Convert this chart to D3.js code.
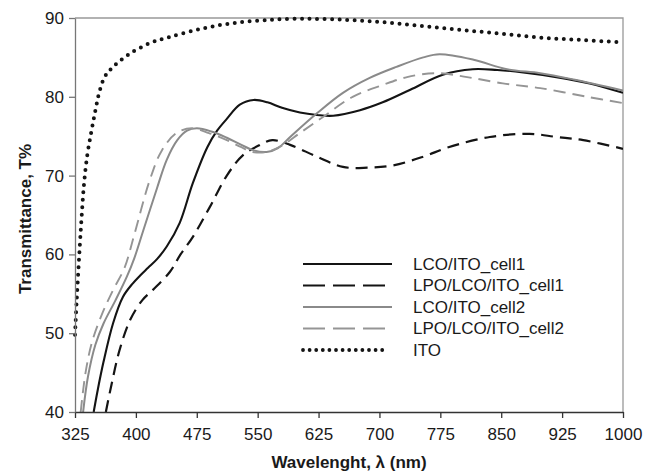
<!DOCTYPE html>
<html>
<head>
<meta charset="utf-8">
<script src="https://cdn.jsdelivr.net/npm/d3@7"></script>
<style>
  body { margin: 0; background: #fff; }
  text { font-family: "Liberation Sans", Arial, sans-serif; fill: #1a1a1a; }
</style>
</head>
<body>
<svg id="chart" width="660" height="476"></svg>
<script>
// values
const itoNm = [325, 327, 330, 333, 336, 340, 345, 350, 355, 362, 372, 390, 417, 442, 479, 516, 556, 600, 650, 700, 750, 800, 850, 900, 950, 1000];
const itoT = [49.8, 54, 59.5, 64.5, 68.8, 72.5, 75.5, 78.2, 80.6, 82.6, 83.8, 85.3, 86.8, 87.6, 88.6, 89.3, 89.7, 89.9, 89.8, 89.5, 89.0, 88.5, 88.0, 87.5, 87.2, 86.9];

const lcoCell1Nm = [348, 353, 360, 372, 384, 396, 405, 415, 426, 438, 454, 470, 488, 500, 512, 528, 545, 562, 580, 602, 623, 643, 676, 704, 738, 778, 815, 845, 877, 918, 959, 1000];
const lcoCell1T = [40, 42.8, 46.3, 51.3, 54.6, 56.3, 57.3, 58.3, 59.4, 61, 64, 69, 73.6, 75.7, 77.2, 79, 79.6, 79.3, 78.6, 78.0, 77.7, 77.6, 78.3, 79.3, 80.9, 82.8, 83.5, 83.4, 83.1, 82.5, 81.7, 80.5];

const lpoCell1Nm = [363, 370, 380, 393, 408, 421, 442, 455, 470, 491, 512, 532, 553, 568, 590, 623, 655, 685, 717, 754, 785, 836, 885, 918, 951, 1000];
const lpoCell1T = [40, 43.5, 47.9, 51.7, 54.2, 55.5, 57.8, 60, 62.2, 66, 70, 72.6, 73.9, 74.5, 73.9, 72.4, 71.1, 71.0, 71.3, 72.4, 73.6, 74.9, 75.3, 74.9, 74.5, 73.4];

const lcoCell2Nm = [335, 341, 350, 360, 375, 389, 398, 409, 426, 438, 451, 463, 475, 493, 512, 530, 545, 561, 575, 590, 623, 655, 688, 721, 754, 774, 816, 857, 898, 939, 1000];
const lcoCell2T = [40, 44.5, 48.5, 51.2, 54.2, 57.2, 59.5, 63, 68.4, 72, 74.5, 75.7, 76, 75.6, 74.8, 73.9, 73.2, 73.0, 73.5, 74.9, 77.9, 80.5, 82.4, 83.8, 85.0, 85.4, 84.7, 83.5, 83.0, 82.2, 80.8];

const lpoCell2Nm = [332, 338, 346, 359, 372, 386, 398, 417, 432, 450, 469, 490, 512, 530, 544, 561, 580, 602, 630, 667, 704, 734, 771, 808, 852, 898, 956, 1000];
const lpoCell2T = [40, 45, 48.9, 52.6, 55.5, 58.3, 62.5, 69.4, 73.2, 75.4, 76, 75.4, 74.5, 73.6, 73, 73, 73.8, 75.4, 77.4, 80, 81.5, 82.5, 83, 82.5, 81.7, 81.1, 80, 79.2];

const xTicks = [325, 400, 475, 550, 625, 700, 775, 850, 925, 1000];
const yTicks = [40, 50, 60, 70, 80, 90];

const seriesNames = ["LCO/ITO_cell1", "LPO/LCO/ITO_cell1", "LCO/ITO_cell2", "LPO/LCO/ITO_cell2", "ITO"];

const series = [
    {name: seriesNames[0], nm: lcoCell1Nm, t: lcoCell1T, color: "#141414", width: 2.1, dash: null, legendDash: null},
    {name: seriesNames[1], nm: lpoCell1Nm, t: lpoCell1T, color: "#141414", width: 2.2, dash: "12,7", legendDash: "22,8"},
    {name: seriesNames[2], nm: lcoCell2Nm, t: lcoCell2T, color: "#8a8a8a", width: 2, dash: null, legendDash: null},
    {name: seriesNames[3], nm: lpoCell2Nm, t: lpoCell2T, color: "#959595", width: 1.9, dash: "12,7", legendDash: "22,8"},
    {name: seriesNames[4], nm: itoNm, t: itoT, color: "#141414", width: 4, dash: "0,7.5", legendDash: "0,6.6", round: true}
];

const margin = {left: 75, top: 18, right: 37, bottom: 64};
const width = 660, height = 476;

const svg = d3.select("#chart");

const x = d3.scaleLinear().domain([325, 1000]).range([margin.left, width - margin.right]);
const y = d3.scaleLinear().domain([40, 90]).range([height - margin.bottom, margin.top]);

// frame: top + right in light grey
svg.append("path")
    .attr("d", `M${x(325)},${y(90)}H${x(1000)}V${y(40)}`)
    .attr("fill", "none")
    .attr("stroke", "#999")
    .attr("stroke-width", 1.3);

svg.append("defs").append("clipPath").attr("id", "plot")
    .append("rect")
    .attr("x", x(325) - 3).attr("y", y(90) - 3)
    .attr("width", x(1000) - x(325) + 3).attr("height", y(40) - y(90) + 3);

const line = d3.line()
    .x(d => x(d[0]))
    .y(d => y(d[1]))
    .curve(d3.curveCatmullRom.alpha(0.5));

const plot = svg.append("g").attr("clip-path", "url(#plot)");

for (let s of series) {
    plot.append("path")
        .datum(s.nm.map((v, i) => [v, s.t[i]]))
        .attr("d", line)
        .attr("fill", "none")
        .attr("stroke", s.color)
        .attr("stroke-width", s.width)
        .attr("stroke-dasharray", s.dash)
        .attr("stroke-linecap", s.round ? "round" : "butt")
        .attr("stroke-linejoin", "round");
}

// axes
const xAxis = svg.append("g")
    .attr("transform", `translate(0,${y(40)})`)
    .call(d3.axisBottom(x).tickValues(xTicks).tickFormat(d3.format("d"))
        .tickSize(6).tickPadding(10).tickSizeOuter(0));
xAxis.select(".domain").attr("stroke", "#333").attr("stroke-width", 1.4);
xAxis.selectAll(".tick line").attr("stroke", "#333").attr("stroke-width", 1.3);
xAxis.selectAll("text").style("font-size", "17px").attr("fill", "#1a1a1a");

const yAxis = svg.append("g")
    .attr("transform", `translate(${x(325)},0)`)
    .call(d3.axisLeft(y).tickValues(yTicks).tickSize(6).tickPadding(5).tickSizeOuter(0));
yAxis.select(".domain").attr("stroke", "#777").attr("stroke-width", 1.3);
yAxis.selectAll(".tick line").attr("stroke", "#777").attr("stroke-width", 1.3);
yAxis.selectAll("text").style("font-size", "17px").attr("fill", "#1a1a1a");

// axis titles
svg.append("text")
    .attr("x", (x(325) + x(1000)) / 2)
    .attr("y", 468)
    .attr("text-anchor", "middle")
    .style("font-size", "17px")
    .style("font-weight", "bold")
    .text("Wavelenght, λ (nm)");

svg.append("text")
    .attr("transform", `translate(31,${(y(40) + y(90)) / 2 + 4}) rotate(-90)`)
    .attr("text-anchor", "middle")
    .style("font-size", "17px")
    .style("font-weight", "bold")
    .text("Transmittance, T%");

// legend
const legend = svg.append("g");
series.forEach((s, i) => {
    let ly = 264 + i * 21.5;
    legend.append("line")
        .attr("x1", 303).attr("x2", s.round ? 387 : 392)
        .attr("y1", ly).attr("y2", ly)
        .attr("stroke", s.color)
        .attr("stroke-width", s.round ? 3.8 : s.width)
        .attr("stroke-dasharray", s.legendDash)
        .attr("stroke-linecap", s.round ? "round" : "butt");
    legend.append("text")
        .attr("x", 413)
        .attr("y", ly)
        .attr("dy", "0.35em")
        .style("font-size", "17px")
        .text(s.name);
});
</script>
</body>
</html>
